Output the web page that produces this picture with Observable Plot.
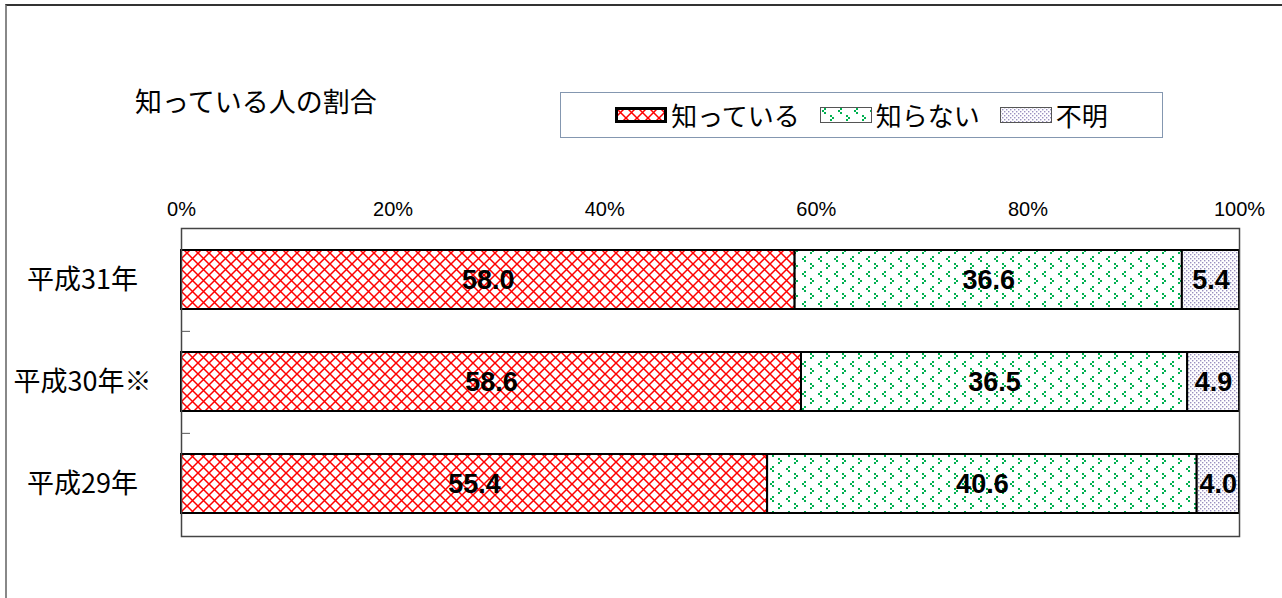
<!DOCTYPE html>
<html><head><meta charset="utf-8">
<script src="https://cdn.jsdelivr.net/npm/d3@7"></script>
<script src="https://cdn.jsdelivr.net/npm/@observablehq/plot@0.6"></script>
<style>
body{margin:0;background:#fff;}
#wrap{position:relative;width:1282px;height:598px;overflow:hidden;font-family:"Noto Sans CJK JP",sans-serif;color:#000;}
#outer{position:absolute;left:5px;top:4px;width:1300px;height:620px;border-top:2px solid #333;border-left:2px solid #888;}
#title{position:absolute;left:135px;top:87px;font-size:27px;line-height:1;}
#legend{position:absolute;left:560px;top:92px;width:601px;height:44px;border:1.5px solid #8497b0;display:flex;align-items:center;justify-content:center;font-size:26px;line-height:1;}
#legend .item{display:flex;align-items:center;margin:0 10px;}
#legend svg{margin-right:4px;}
#chart{position:absolute;left:0;top:0;}
#defs{position:absolute;left:0;top:0;}
</style></head>
<body><div id="wrap"><div id="outer"></div><div id="title"></div><div id="legend"></div><div id="chart"></div></div>
<script>
const years = ["平成31年", "平成30年※", "平成29年"];
const series = ["知っている", "知らない", "不明"];
const known = [58.0, 58.6, 55.4];
const notKnown = [36.6, 36.5, 40.6];
const unclear = [5.4, 4.9, 4.0];
const xTicks = [0, 20, 40, 60, 80, 100];
const titleText = "知っている人の割合";

const patternIds = ["p0", "p1", "p2"];

// shared pattern definitions
const defsSvg = d3.select("#wrap").append("svg").attr("id", "defs").attr("width", 0).attr("height", 0);
const defs = defsSvg.append("defs");
{
  const p = defs.append("pattern").attr("id", "p0").attr("patternUnits", "userSpaceOnUse").attr("width", 11).attr("height", 11);
  p.append("rect").attr("width", 11).attr("height", 11).attr("fill", "#fff");
  p.append("path").attr("d", "M0,0L11,11M11,0L0,11").attr("stroke", "#ff0000").attr("stroke-width", 1.5).attr("fill", "none");
}
{
  const p = defs.append("pattern").attr("id", "p1").attr("patternUnits", "userSpaceOnUse").attr("width", 16).attr("height", 15);
  p.append("rect").attr("width", 16).attr("height", 15).attr("fill", "#fff");
  const g = "#00b050", u = 2;
  // "<" mark
  [[4, 1], [2, 3], [4, 5]].forEach(([x, y]) => p.append("rect").attr("x", x).attr("y", y).attr("width", u).attr("height", u).attr("fill", g).attr("shape-rendering", "crispEdges"));
  // ">" mark
  [[10, 8], [12, 10], [10, 12]].forEach(([x, y]) => p.append("rect").attr("x", x).attr("y", y).attr("width", u).attr("height", u).attr("fill", g).attr("shape-rendering", "crispEdges"));
}
{
  const p = defs.append("pattern").attr("id", "p2").attr("patternUnits", "userSpaceOnUse").attr("width", 4).attr("height", 4);
  p.append("rect").attr("width", 4).attr("height", 4).attr("fill", "#fff");
  p.append("rect").attr("x", 0).attr("y", 0).attr("width", 1.4).attr("height", 1.4).attr("fill", "#9a90c0");
  p.append("rect").attr("x", 2).attr("y", 2).attr("width", 1.4).attr("height", 1.4).attr("fill", "#9a90c0");
}

d3.select("#title").text(titleText);

const legend = d3.select("#legend");
series.forEach((s, i) => {
  const item = legend.append("div").attr("class", "item");
  const sw = item.append("svg").attr("width", 52).attr("height", 16);
  sw.append("rect").attr("x", i === 0 ? 1.5 : 0.5).attr("y", i === 0 ? 1.5 : 0.5)
    .attr("width", i === 0 ? 49 : 51).attr("height", i === 0 ? 13 : 15)
    .attr("fill", `url(#${patternIds[i]})`)
    .attr("stroke", i === 0 ? "#000" : "#555").attr("stroke-width", i === 0 ? 3 : 1);
  item.append("span").text(s);
});

const data = years.flatMap((y, i) => [
  {year: y, series: series[0], value: known[i]},
  {year: y, series: series[1], value: notKnown[i]},
  {year: y, series: series[2], value: unclear[i]}
]);

const chart = Plot.plot({
  width: 1282, height: 598,
  marginLeft: 181, marginRight: 43, marginTop: 228, marginBottom: 62,
  style: {background: "transparent", fontFamily: "'Noto Sans CJK JP', sans-serif", color: "#000"},
  x: {domain: [0, 100]},
  y: {domain: years, paddingInner: 0.42, paddingOuter: 0.21},
  color: {domain: series, range: patternIds.map(id => `url(#${id})`)},
  marks: [
    Plot.barX(data, Plot.stackX({x: "value", y: "year", fill: "series", stroke: "#000", strokeWidth: 2})),
    Plot.textX(data, Plot.stackX({x: "value", y: "year", z: "series", text: d => d.value.toFixed(1),
      fontSize: 27, fontWeight: "bold", fontFamily: "'Liberation Sans', Arial, sans-serif", fill: "#000",
      style: "letter-spacing:-0.5px"})),
    Plot.frame({stroke: "#444", strokeWidth: 1.5}),
    Plot.ruleY(years.slice(0, -1), {y: d => d, x1: 0, x2: 0.85, dy: 51.35, stroke: "#555"}),
    Plot.axisX({anchor: "top", ticks: xTicks, tickFormat: d => d + "%", tickSize: 0, tickPadding: 13,
      fontSize: 20, label: null, fontFamily: "'Liberation Sans', Arial, sans-serif"}),
    Plot.axisY({tickSize: 0, tickPadding: 99, textAnchor: "middle", fontSize: 27, label: null})
  ]
});
document.getElementById("chart").appendChild(chart);
</script>
</body></html>
